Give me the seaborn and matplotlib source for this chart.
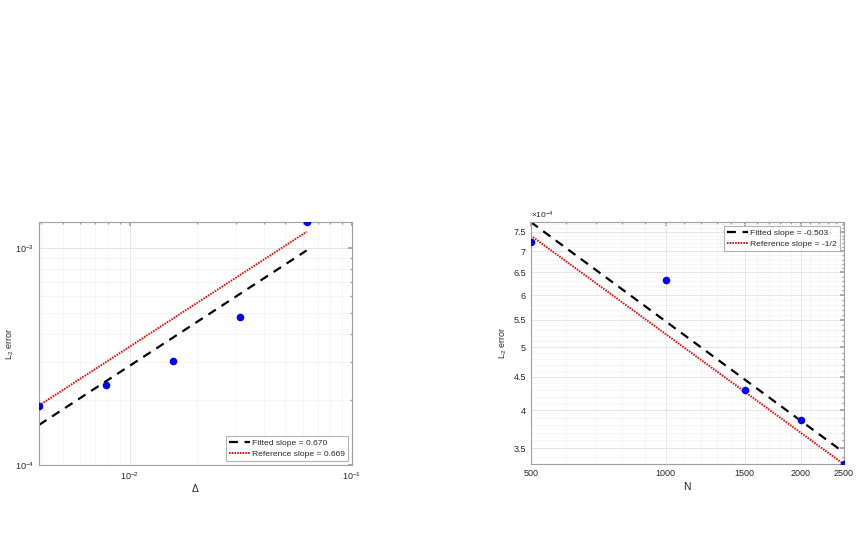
"""
Convergence plots: L2 error versus grid spacing and versus sample count,
with a fitted power-law line and a reference slope line on log-log axes.

Output: out.png
"""

import matplotlib.pyplot as plt
import matplotlib.ticker as mticker
import numpy as np
import seaborn as sns

# left panel: error vs grid spacing
DELTA = [1 / 256, 1 / 128, 1 / 64, 1 / 32, 1 / 16]
ERR_DELTA = [1.88e-4, 2.33e-4, 3.01e-4, 4.83e-4, 1.32e-3]
FIT_DELTA_X = [1 / 256, 1 / 16]
FIT_DELTA_Y = [1.53e-4, 9.76e-4]
REF_DELTA_X = [1 / 256, 1 / 16]
REF_DELTA_Y = [1.88e-4, 1.19e-3]
FIT_DELTA_LABEL = "Fitted slope = 0.670"
REF_DELTA_LABEL = "Reference slope = 0.669"

# right panel: error vs N
N = [500, 1000, 1500, 2000, 2500]
ERR_N = [7.23e-4, 6.33e-4, 4.30e-4, 3.87e-4, 3.31e-4]
FIT_N_X = [500, 2500]
FIT_N_Y = [7.76e-4, 3.45e-4]
REF_N_X = [500, 2500]
REF_N_Y = [7.40e-4, 3.31e-4]
FIT_N_LABEL = "Fitted slope = -0.503"
REF_N_LABEL = "Reference slope = -1/2"
N_TICKS = [500, 1000, 1500, 2000, 2500]
ERR_TICKS = [3.5e-4, 4e-4, 4.5e-4, 5e-4, 5.5e-4, 6e-4, 6.5e-4, 7e-4, 7.5e-4]

TXT = "#262626"
AX_EDGE = "#a0a0a0"
FS = 6.5
LEG_FS = 6.1


def style_axes(ax):
    for s in ax.spines.values():
        s.set_color(AX_EDGE)
        s.set_linewidth(0.8)
    ax.tick_params(which="both", direction="in", colors=AX_EDGE,
                   labelcolor=TXT, labelsize=FS, top=True, right=True)
    ax.tick_params(which="major", length=3)
    ax.tick_params(which="minor", length=1.5)
    ax.grid(True, which="major", color="#dcdcdc", linewidth=0.5)
    ax.grid(True, which="minor", color="#f0f0f0", linewidth=0.4)
    ax.set_axisbelow(True)


def draw_panel(ax, x, y, fx, fy, flab, rx, ry, rlab, loc):
    sns.lineplot(x=fx, y=fy, ax=ax, color="black", linewidth=1.6,
                 linestyle=(0, (4, 3)), label=flab)
    sns.lineplot(x=rx, y=ry, ax=ax, color="red", linewidth=1.4,
                 linestyle=(0, (0.8, 0.6)), label=rlab)
    sns.scatterplot(x=x, y=y, ax=ax, color="blue", s=30, edgecolor="blue",
                    linewidth=0, zorder=5, legend=False)
    leg = ax.legend(loc=loc, fontsize=LEG_FS, frameon=True, fancybox=False,
                    handlelength=2.5, borderpad=0.4, labelspacing=0.3,
                    handletextpad=0.2, borderaxespad=0.45)
    leg.get_frame().set_edgecolor(AX_EDGE)
    leg.get_frame().set_linewidth(0.8)
    for t in leg.get_texts():
        t.set_color(TXT)


def main() -> None:
    sns.set_theme(style="white")
    plt.rcParams["font.family"] = ["Liberation Sans", "DejaVu Sans"]
    plt.rcParams["mathtext.fontset"] = "custom"
    plt.rcParams["mathtext.rm"] = "Liberation Sans"
    plt.rcParams["mathtext.it"] = "Liberation Sans:italic"

    fig = plt.figure(figsize=(8.59, 5.48), dpi=100)
    ax1 = fig.add_axes([0.0454, 0.1515, 0.3644, 0.4434])
    ax2 = fig.add_axes([0.6178, 0.1527, 0.3647, 0.4422])

    # left
    draw_panel(ax1, DELTA, ERR_DELTA, FIT_DELTA_X, FIT_DELTA_Y, FIT_DELTA_LABEL,
               REF_DELTA_X, REF_DELTA_Y, REF_DELTA_LABEL, "lower right")
    ax1.set_xscale("log")
    ax1.set_yscale("log")
    ax1.set_xlim(DELTA[0], 0.1)
    ax1.set_ylim(1e-4, max(ERR_DELTA))
    style_axes(ax1)
    ax1.xaxis.set_minor_formatter(mticker.NullFormatter())
    ax1.yaxis.set_minor_formatter(mticker.NullFormatter())
    ax1.set_xlabel("Δ", fontsize=FS + 1, color=TXT, labelpad=2)
    ax1.set_ylabel("L$_2$ error", fontsize=FS, color=TXT)
    ax1.yaxis.set_label_coords(-0.072, 0.5)

    # right
    draw_panel(ax2, N, ERR_N, FIT_N_X, FIT_N_Y, FIT_N_LABEL,
               REF_N_X, REF_N_Y, REF_N_LABEL, "upper right")
    ax2.set_xscale("log")
    ax2.set_yscale("log")
    ax2.set_xlim(N_TICKS[0], N_TICKS[-1])
    ax2.set_ylim(min(ERR_N), max(FIT_N_Y))
    style_axes(ax2)
    ax2.xaxis.set_major_locator(mticker.FixedLocator(N_TICKS))
    ax2.xaxis.set_major_formatter(mticker.FixedFormatter([str(v) for v in N_TICKS]))
    ax2.xaxis.set_minor_locator(mticker.FixedLocator(np.arange(600, 2500, 100)))
    ax2.xaxis.set_minor_formatter(mticker.NullFormatter())
    ax2.yaxis.set_major_locator(mticker.FixedLocator(ERR_TICKS))
    ax2.yaxis.set_major_formatter(
        mticker.FixedFormatter([f"{v / 1e-4:g}" for v in ERR_TICKS]))
    ax2.yaxis.set_minor_locator(mticker.FixedLocator(np.arange(3.4e-4, 7.8e-4, 0.1e-4)))
    ax2.yaxis.set_minor_formatter(mticker.NullFormatter())
    ax2.text(0.0, 1.005, r"$\times$10$^{-4}$", transform=ax2.transAxes,
             fontsize=FS - 0.5, color=TXT, ha="left", va="bottom")
    ax2.set_xlabel("N", fontsize=FS + 1, color=TXT, labelpad=3)
    ax2.set_ylabel("L$_2$ error", fontsize=FS, color=TXT)
    ax2.yaxis.set_label_coords(-0.069, 0.5)

    fig.savefig("out.png", dpi=100)
    plt.close(fig)


if __name__ == "__main__":
    main()
